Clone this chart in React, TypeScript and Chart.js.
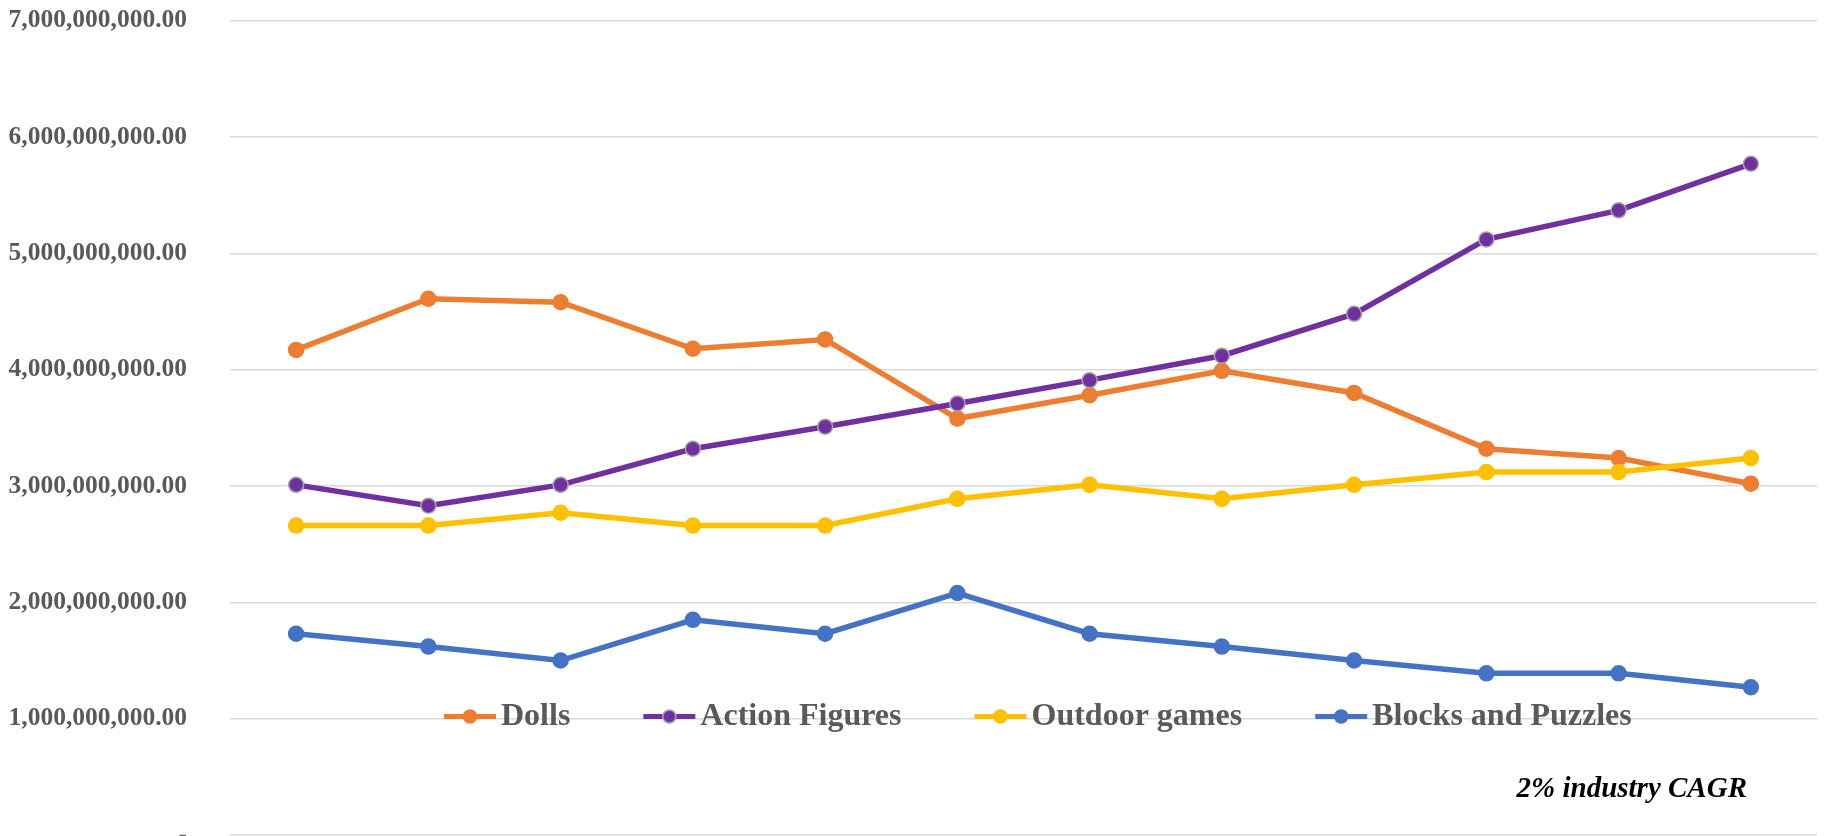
import React, { useEffect, useRef } from "react";
import { Chart, registerables } from "chart.js";

Chart.register(...registerables);

// ---- data ----
const categories = ["2010", "2011", "2012", "2013", "2014", "2015", "2016", "2017", "2018", "2019", "2020", "2021"];
const dolls = [4170000000, 4610000000, 4580000000, 4180000000, 4260000000, 3580000000, 3780000000, 3990000000, 3800000000, 3320000000, 3240000000, 3020000000];
const actionFigures = [3010000000, 2830000000, 3010000000, 3320000000, 3510000000, 3710000000, 3910000000, 4120000000, 4480000000, 5120000000, 5370000000, 5770000000];
const outdoorGames = [2660000000, 2660000000, 2770000000, 2660000000, 2660000000, 2890000000, 3010000000, 2890000000, 3010000000, 3120000000, 3120000000, 3240000000];
const blocksAndPuzzles = [1730000000, 1620000000, 1500000000, 1850000000, 1730000000, 2080000000, 1730000000, 1620000000, 1500000000, 1390000000, 1390000000, 1270000000];
const seriesNames = ["Dolls", "Action Figures", "Outdoor games", "Blocks and Puzzles"];
const yMin = 0;
const yMax = 7000000000;
const yStep = 1000000000;
const noteText = "2% industry CAGR";

const COLORS = ["#ED7D31", "#7030A0", "#FFC000", "#4472C4"];
const MARKER_BORDERS = ["#ED7D31", "#A6A6A6", "#FFC000", "#4472C4"];
const SERIF = "'Liberation Serif', 'DejaVu Serif', serif";

const overlayPlugin = {
  id: "overlayLegendNote",
  afterDraw(chart: any) {
    const ctx = chart.ctx as CanvasRenderingContext2D;
    ctx.save();
    ctx.font = `bold 32px ${SERIF}`;
    ctx.textAlign = "left";
    ctx.textBaseline = "alphabetic";
    let x = 444;
    const yLine = 716.5;
    const yText = 724.5;
    chart.data.datasets.forEach((ds: any) => {
      ctx.strokeStyle = ds.borderColor;
      ctx.lineWidth = 5;
      ctx.beginPath();
      ctx.moveTo(x, yLine);
      ctx.lineTo(x + 52, yLine);
      ctx.stroke();
      ctx.beginPath();
      ctx.arc(x + 26, yLine, 6.5, 0, Math.PI * 2);
      ctx.fillStyle = ds.pointBackgroundColor;
      ctx.fill();
      ctx.lineWidth = 1.5;
      ctx.strokeStyle = ds.pointBorderColor;
      ctx.stroke();
      ctx.fillStyle = "#595959";
      ctx.fillText(ds.label, x + 57, yText);
      x += 57 + ctx.measureText(ds.label).width + 73;
    });
    ctx.font = `italic bold 29px ${SERIF}`;
    ctx.fillStyle = "#000000";
    ctx.textAlign = "right";
    ctx.fillText(noteText, 1747, 797);
    ctx.restore();
  },
};

export default function App() {
  const canvasRef = useRef<HTMLCanvasElement | null>(null);

  useEffect(() => {
    const canvas = canvasRef.current;
    if (!canvas) return;
    const seriesValues = [dolls, actionFigures, outdoorGames, blocksAndPuzzles];
    const chart = new Chart(canvas, {
      type: "line",
      data: {
        labels: categories,
        datasets: seriesValues.map((vals, i) => ({
          label: seriesNames[i],
          data: vals,
          borderColor: COLORS[i],
          backgroundColor: COLORS[i],
          pointBackgroundColor: COLORS[i],
          pointBorderColor: MARKER_BORDERS[i],
          pointBorderWidth: 1.5,
          pointRadius: 7.5,
          borderWidth: 5.5,
          tension: 0,
          fill: false,
          order: 4 - i,
        })),
      },
      options: {
        responsive: false,
        animation: false,
        devicePixelRatio: 1,
        layout: { padding: { top: 20.7, bottom: 45, left: 0, right: 0 } },
        plugins: {
          legend: { display: false },
          tooltip: { enabled: false },
          title: { display: false },
        },
        scales: {
          x: {
            type: "category",
            offset: true,
            display: false,
            grid: { display: false },
          },
          y: {
            min: yMin,
            max: yMax,
            afterFit(scale: any) {
              scale.width = 230;
              scale.paddingTop = 0;
              scale.paddingBottom = 0;
            },
            border: { display: false },
            grid: { color: "#D9D9D9", lineWidth: 1.5, drawTicks: false },
            ticks: {
              stepSize: yStep,
              padding: 43,
              color: "#595959",
              font: { family: SERIF, size: 25.5, weight: "bold" },
              callback: (v: any) =>
                Number(v) === 0
                  ? "-"
                  : Number(v).toLocaleString("en-US", { minimumFractionDigits: 2, maximumFractionDigits: 2 }),
            },
          },
        },
      },
      plugins: [overlayPlugin],
    } as any);
    return () => chart.destroy();
  }, []);

  return (
    <div
      style={{
        position: "fixed",
        left: 0,
        top: 0,
        width: 1826,
        height: 836,
        overflow: "hidden",
        background: "#ffffff",
      }}
    >
      <canvas ref={canvasRef} width={1826} height={880} style={{ display: "block", width: 1826, height: 880 }} />
    </div>
  );
}
